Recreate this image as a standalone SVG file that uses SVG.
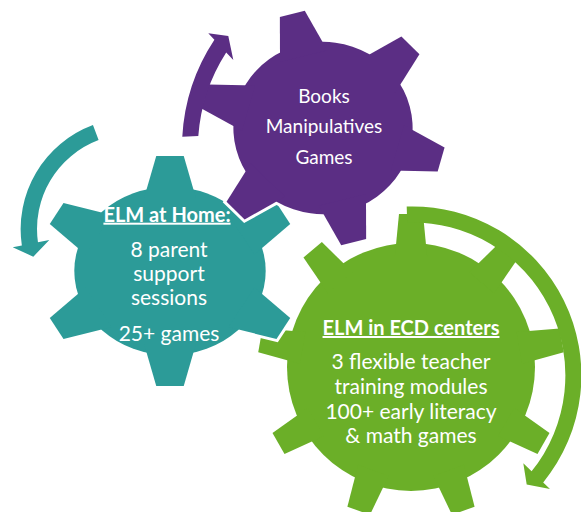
<svg xmlns="http://www.w3.org/2000/svg" xmlns:xlink="http://www.w3.org/1999/xlink" width="581" height="512" viewBox="0 0 581 512">
<style>
.t{font-family:Lato,"Liberation Sans",sans-serif;font-size:21px;fill:#ffffff;text-anchor:middle}
.s{font-size:19px}
.b{font-size:20px;font-weight:bold;text-decoration:underline}
.purple{fill:#5B2E84}
.teal{fill:#2C9B98}
.green{fill:#6BAF28}
.ol{fill:#ffffff;stroke:#ffffff;stroke-width:6;stroke-linejoin:miter}
</style>
<defs>
<polygon id="toothA" vector-effect="non-scaling-stroke" points="-23.7,-75 -12.5,-119 12.5,-119 23.7,-75"/>
<polygon id="toothG" points="-16.2,-110 -12,-153 12,-153 16.2,-110"/>
<g id="gear6">
<circle r="87" vector-effect="non-scaling-stroke"/>
<use xlink:href="#toothA"/>
<use xlink:href="#toothA" transform="rotate(60)"/>
<use xlink:href="#toothA" transform="rotate(120)"/>
<use xlink:href="#toothA" transform="rotate(180)"/>
<use xlink:href="#toothA" transform="rotate(240)"/>
<use xlink:href="#toothA" transform="rotate(300)"/>
</g>
</defs>

<g id="gear-ecd">
<g class="green" transform="translate(411,367)">
<circle r="124"/>
<use xlink:href="#toothG"/>
<use xlink:href="#toothG" transform="rotate(40)"/>
<use xlink:href="#toothG" transform="rotate(80)"/>
<use xlink:href="#toothG" transform="rotate(120)"/>
<use xlink:href="#toothG" transform="rotate(160)"/>
<use xlink:href="#toothG" transform="rotate(200)"/>
<use xlink:href="#toothG" transform="rotate(240)"/>
<use xlink:href="#toothG" transform="rotate(280)"/>
<use xlink:href="#toothG" transform="rotate(320)"/>
</g>
<text class="t b" x="411" y="335">ELM in ECD centers</text>
<text class="t" x="411" y="369">3 flexible teacher</text>
<text class="t" x="411" y="394">training modules</text>
<text class="t" x="411" y="418.5">100+ early literacy</text>
<text class="t" x="411" y="443">&amp; math games</text>
</g>

<g id="gear-home">
<use xlink:href="#gear6" class="ol" transform="translate(170,271) scale(1.1,0.966)"/>
<use xlink:href="#gear6" class="teal" transform="translate(170,271) scale(1.1,0.966)"/>
<text class="t b" x="167" y="221.7">ELM at Home:</text>
<text class="t" x="169" y="256.7">8 parent</text>
<text class="t" x="169" y="281">support</text>
<text class="t" x="169" y="305">sessions</text>
<text class="t" x="169" y="341">25+ games</text>
</g>

<g id="gear-materials">
<use xlink:href="#gear6" class="ol" transform="translate(323,128) scale(1.03,0.99) rotate(-14.5)"/>
<use xlink:href="#gear6" class="purple" transform="translate(323,128) scale(1.03,0.99) rotate(-14.5)"/>
<text class="t s" x="324" y="102.7">Books</text>
<text class="t s" x="324" y="133.3">Manipulatives</text>
<text class="t s" x="324" y="164.3">Games</text>
</g>

<g id="connectors">
<path class="purple" d="M182.3,136.8 A195,195 0 0 1 214.4,39.8 L208.3,33.3 L228.3,36 L233.3,60 L226.2,52.4 A179,179 0 0 0 198.3,136.1 Z"/>
<path class="teal" d="M92.95,125.1 A111,111 0 0 0 21.85,245.5 L12.7,247.3 L33.3,256.7 L49.3,240 L37.95,242.26 A95,95 0 0 1 98.6,140.1 Z"/>
<path class="green" d="M406.7,206.5 A169,169 0 0 1 543.2,482.4 L550,489 L526.7,484.5 L523.3,463.3 L531.6,471.3 A153,153 0 0 0 407.2,222.5 Z"/>
</g>
</svg>
